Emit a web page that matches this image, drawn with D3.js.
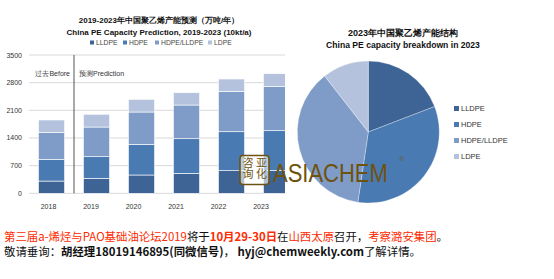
<!DOCTYPE html>
<html>
<head>
<meta charset="utf-8">
<script src="https://cdnjs.cloudflare.com/ajax/libs/d3/7.8.5/d3.min.js"></script>
<style>
  body { margin: 0; background: #fff; }
  svg { display: block; font-family: "Liberation Sans", Arial, sans-serif; }
</style>
</head>
<body>
<div class="container"></div>
<script>
// data (10kt/a)
let years = ["2018", "2019", "2020", "2021", "2022", "2023"];
let types = ["LLDPE", "HDPE", "HDPE/LLDPE", "LDPE"];
let lldpe = [310, 380, 463, 506, 572, 580];
let hdpe = [550, 546, 777, 875, 986, 1004];
let hdpeLldpe = [683, 751, 817, 853, 1023, 1123];
let ldpe = [312, 323, 321, 311, 311, 319];
let yTicks = [0, 700, 1400, 2100, 2800, 3500];
let colors = ["#3e6496", "#4a7ab2", "#7f9cc8", "#b4c2de"];

let width = 554,
    height = 279;

let svg = d3.select(".container")
    .append("svg")
    .attr("width", width)
    .attr("height", height);

let rows = years.map((y, i) => ({
    year: y,
    "LLDPE": lldpe[i],
    "HDPE": hdpe[i],
    "HDPE/LLDPE": hdpeLldpe[i],
    "LDPE": ldpe[i]
}));

let color = d3.scaleOrdinal().domain(types).range(colors);

// ---------- bar chart ----------
let x = d3.scaleBand()
    .domain(years)
    .range([29, 299])
    .paddingInner(0.42)
    .paddingOuter(0.21);

// the year labels sit on a slightly tighter spacing than the bars
let xLab = d3.scalePoint()
    .domain(years)
    .range([48.5, 261]);

let y = d3.scaleLinear()
    .domain([0, 3500])
    .range([193.3, 55]);

svg.append("clipPath")
    .attr("id", "barclip")
    .append("rect")
    .attr("x", 0).attr("y", 0)
    .attr("width", 285).attr("height", height);

let bar = svg.append("g").attr("clip-path", "url(#barclip)");

bar.append("g")
    .selectAll("line")
    .data(yTicks)
    .enter()
    .append("line")
    .attr("x1", 29)
    .attr("x2", 299)
    .attr("y1", d => y(d))
    .attr("y2", d => y(d))
    .attr("stroke", "#d9d9d9")
    .attr("stroke-width", 1);

let stack = d3.stack().keys(types)(rows);

bar.append("g")
    .selectAll("g")
    .data(stack)
    .enter()
    .append("g")
    .attr("fill", d => color(d.key))
    .selectAll("rect")
    .data(d => d)
    .enter()
    .append("rect")
    .attr("x", d => x(d.data.year))
    .attr("width", x.bandwidth())
    .attr("y", d => y(d[1]))
    .attr("height", d => y(d[0]) - y(d[1]))
    .attr("stroke", "#fff")
    .attr("stroke-width", 0.6);

// before / prediction divider
let divX = (x("2018") + x.bandwidth() + x("2019")) / 2;
bar.append("line")
    .attr("x1", divX).attr("x2", divX)
    .attr("y1", y(3500)).attr("y2", y(0))
    .attr("stroke", "#555")
    .attr("stroke-width", 1);

svg.append("text")
    .attr("x", divX - 4)
    .attr("y", 75.5)
    .attr("text-anchor", "end")
    .attr("font-size", 7)
    .attr("fill", "#333")
    .text("过去Before");

svg.append("text")
    .attr("x", divX + 5)
    .attr("y", 75.5)
    .attr("font-size", 7)
    .attr("fill", "#333")
    .text("预测Prediction");

// y labels
svg.append("g")
    .selectAll("text")
    .data(yTicks)
    .enter()
    .append("text")
    .attr("x", 22)
    .attr("y", d => y(d) + 2.5)
    .attr("text-anchor", "end")
    .attr("font-size", 7)
    .attr("fill", "#333")
    .text(d => d);

// x labels
svg.append("g")
    .selectAll("text")
    .data(years)
    .enter()
    .append("text")
    .attr("x", d => xLab(d))
    .attr("y", 209)
    .attr("text-anchor", "middle")
    .attr("font-size", 7)
    .attr("fill", "#333")
    .text(d => d);

// titles
svg.append("text")
    .attr("x", 159).attr("y", 23)
    .attr("text-anchor", "middle")
    .attr("font-size", 8)
    .attr("font-weight", "bold")
    .attr("fill", "#111")
    .text("2019-2023年中国聚乙烯产能预测（万吨/年）");

svg.append("text")
    .attr("x", 159).attr("y", 34.5)
    .attr("text-anchor", "middle")
    .attr("font-size", 8)
    .attr("font-weight", "bold")
    .attr("fill", "#111")
    .text("China PE Capacity Prediction, 2019-2023 (10kt/a)");

// bar legend
let legX = [90, 123, 155, 208];
let leg = svg.append("g")
    .selectAll("g")
    .data(types)
    .enter()
    .append("g")
    .attr("transform", (d, i) => "translate(" + legX[i] + ",44.5)");
leg.append("rect")
    .attr("y", -4).attr("width", 4).attr("height", 4)
    .attr("fill", d => color(d));
leg.append("text")
    .attr("x", 6).attr("y", 0)
    .attr("font-size", 6.8)
    .attr("fill", "#444")
    .text(d => d);

// ---------- pie chart ----------
let pieData = types.map((t, i) => ({ key: t, value: rows[5][t] }));
let pie = d3.pie().sort(null).value(d => d.value);
let arc = d3.arc().innerRadius(0).outerRadius(71);

svg.append("g")
    .attr("transform", "translate(368.3,132)")
    .selectAll("path")
    .data(pie(pieData))
    .enter()
    .append("path")
    .attr("d", arc)
    .attr("fill", d => color(d.data.key))
    .attr("stroke", "#fff")
    .attr("stroke-width", 0.3);

svg.append("text")
    .attr("x", 403).attr("y", 36)
    .attr("text-anchor", "middle")
    .attr("font-size", 9)
    .attr("font-weight", "bold")
    .attr("fill", "#111")
    .text("2023年中国聚乙烯产能结构");

svg.append("text")
    .attr("x", 403).attr("y", 47.5)
    .attr("text-anchor", "middle")
    .attr("font-size", 8.6)
    .attr("font-weight", "bold")
    .attr("fill", "#111")
    .text("China PE capacity breakdown in 2023");

let pleg = svg.append("g")
    .selectAll("g")
    .data(types)
    .enter()
    .append("g")
    .attr("transform", (d, i) => "translate(454," + (111 + i * 16) + ")");
pleg.append("rect")
    .attr("y", -5).attr("width", 5).attr("height", 5)
    .attr("fill", d => color(d));
pleg.append("text")
    .attr("x", 7).attr("y", 0)
    .attr("font-size", 7.5)
    .attr("fill", "#333")
    .text(d => d);

// ---------- watermark ----------
let wm = svg.append("g").attr("fill", "#6e5210");
wm.append("rect")
    .attr("x", 240).attr("y", 155.5)
    .attr("width", 29).attr("height", 29)
    .attr("rx", 3)
    .attr("fill", "#fff")
    .attr("fill-opacity", 0.6)
    .attr("stroke", "#6e5210")
    .attr("stroke-width", 1.6);
// seal reads in columns, right to left: 亚化 / 咨询
[["咨询", 248], ["亚化", 261.5]].forEach(c => {
    wm.append("text")
        .attr("x", c[1]).attr("y", 157.5)
        .style("writing-mode", "vertical-rl")
        .attr("font-size", 11)
        .attr("font-family", "Noto Sans CJK SC")
        .text(c[0]);
});
// tall, narrow logo lettering
wm.append("text")
    .attr("transform", "translate(273,182) scale(1,1.2)")
    .attr("font-size", 22)
    .attr("font-family", "Liberation Sans, sans-serif")
    .text("ASIACHEM");
wm.append("text")
    .attr("x", 399.5).attr("y", 161)
    .attr("font-size", 6)
    .text("®");

// ---------- footer ----------
let red = "#fe2a00";
let line1 = [
    ["第三届a-烯烃与PAO基础油论坛2019", red, "normal"],
    ["将于", "#111", "normal"],
    ["10月29-30日", red, "bold"],
    ["在", "#111", "normal"],
    ["山西太原", red, "normal"],
    ["召开，", "#111", "normal"],
    ["考察潞安集团", red, "normal"],
    ["。", "#111", "normal"]
];
let line2 = [
    ["敬请垂询：", "#111", "normal"],
    ["胡经理18019146895(同微信号)", "#111", "bold"],
    ["， ", "#111", "normal"],
    ["hyj@chemweekly.com", "#111", "bold"],
    ["了解详情。", "#111", "normal"]
];

function footer(parts, yy, len) {
    let t = svg.append("text")
        .attr("x", 4).attr("y", yy)
        .attr("font-size", 11.5)
        .attr("font-family", "Noto Sans CJK SC, Liberation Sans, sans-serif")
        .attr("textLength", len)
        .attr("lengthAdjust", "spacingAndGlyphs");
    t.selectAll("tspan")
        .data(parts)
        .enter()
        .append("tspan")
        .attr("fill", d => d[1])
        .attr("font-weight", d => d[2])
        .text(d => d[0]);
}
footer(line1, 240.5, 444);
footer(line2, 255.5, 417);
</script>
</body>
</html>
